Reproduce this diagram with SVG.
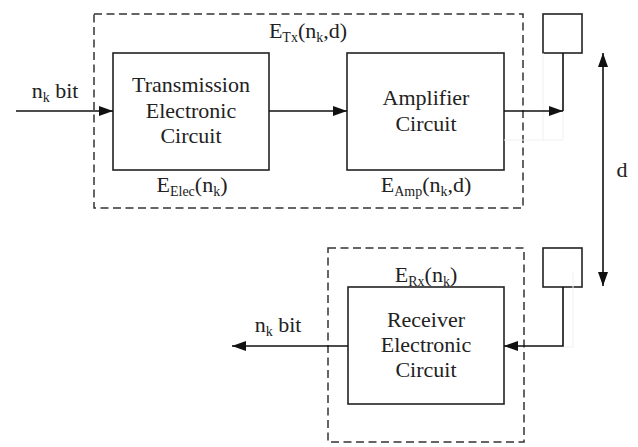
<svg xmlns="http://www.w3.org/2000/svg" width="638" height="447" viewBox="0 0 638 447" font-family="'Liberation Serif', 'DejaVu Serif', 'Times New Roman', serif">
<style>
  .box { fill: none; stroke: #222; stroke-width: 1.6; }
  .dash { fill: none; stroke: #333; stroke-width: 1.5; stroke-dasharray: 8 4.5; }
  .ln { fill: none; stroke: #111; stroke-width: 1.6; }
  .faint { fill: none; stroke: #f0f0f0; stroke-width: 1; }
  .t { font-family: 'Liberation Serif', 'DejaVu Serif', 'Times New Roman', serif; font-size: 22px; fill: #222; }
  .sub { font-size: 14px; }
</style>
<defs>
  <marker id="ah" viewBox="0 0 14 10" refX="14" refY="5" markerWidth="14" markerHeight="10" markerUnits="userSpaceOnUse" orient="auto-start-reverse">
    <path d="M0,0 L14,5 L0,10 Z" fill="#111"/>
  </marker>
</defs>
<rect width="638" height="447" fill="#fff"/>

<g id="tx-boundary">
  <rect class="dash" x="94" y="14" width="429" height="194"/>
  <text class="t" x="308" y="38" text-anchor="middle">E<tspan class="sub" dy="4">Tx</tspan><tspan dy="-4">(n</tspan><tspan class="sub" dy="4">k</tspan><tspan dy="-4">,d)</tspan></text>
</g>

<g id="tx-electronic">
  <rect class="box" x="113" y="53" width="156" height="117"/>
  <text class="t" x="191" y="92" text-anchor="middle">Transmission</text>
  <text class="t" x="191" y="118" text-anchor="middle">Electronic</text>
  <text class="t" x="191" y="143" text-anchor="middle">Circuit</text>
  <text class="t" x="192" y="192" text-anchor="middle">E<tspan class="sub" dy="4">Elec</tspan><tspan dy="-4">(n</tspan><tspan class="sub" dy="4">k</tspan><tspan dy="-4">)</tspan></text>
</g>

<g id="amplifier">
  <rect class="box" x="347" y="53" width="157" height="117"/>
  <text class="t" x="426" y="105" text-anchor="middle">Amplifier</text>
  <text class="t" x="426" y="131" text-anchor="middle">Circuit</text>
  <text class="t" x="426" y="192" text-anchor="middle">E<tspan class="sub" dy="4">Amp</tspan><tspan dy="-4">(n</tspan><tspan class="sub" dy="4">k</tspan><tspan dy="-4">,d)</tspan></text>
</g>

<g id="tx-antenna">
  <rect class="box" x="543" y="14" width="39" height="39"/>
</g>

<g id="rx-boundary">
  <rect class="dash" x="328" y="248" width="196" height="194"/>
  <text class="t" x="426" y="282" text-anchor="middle">E<tspan class="sub" dy="4">Rx</tspan><tspan dy="-4">(n</tspan><tspan class="sub" dy="4">k</tspan><tspan dy="-4">)</tspan></text>
</g>

<g id="rx-electronic">
  <rect class="box" x="348" y="287" width="156" height="117"/>
  <text class="t" x="426" y="327" text-anchor="middle">Receiver</text>
  <text class="t" x="426" y="352" text-anchor="middle">Electronic</text>
  <text class="t" x="426" y="377" text-anchor="middle">Circuit</text>
</g>

<g id="rx-antenna">
  <rect class="box" x="543" y="248" width="39" height="39"/>
</g>

<g id="connectors">
  <path class="faint" d="M504,140 H563 M543,53 V140 M563,111 V140 M573,272 V347 H563"/>
  <path class="ln" d="M16,111 H113" marker-end="url(#ah)"/>
  <text class="t" x="55" y="98" text-anchor="middle">n<tspan class="sub" dy="4">k</tspan><tspan dy="-4"> bit</tspan></text>
  <path class="ln" d="M269,111 H347" marker-end="url(#ah)"/>
  <path class="ln" d="M504,111 H563" marker-end="url(#ah)"/>
  <path class="ln" d="M563,111 V53"/>
  <path class="ln" d="M563,287 V346 H504" marker-end="url(#ah)"/>
  <path class="ln" d="M348,346 H232" marker-end="url(#ah)"/>
  <text class="t" x="278" y="332" text-anchor="middle">n<tspan class="sub" dy="4">k</tspan><tspan dy="-4"> bit</tspan></text>
  <path class="ln" d="M603,53 V286" marker-start="url(#ah)" marker-end="url(#ah)"/>
  <text class="t" x="622" y="177" text-anchor="middle">d</text>
</g>
</svg>
